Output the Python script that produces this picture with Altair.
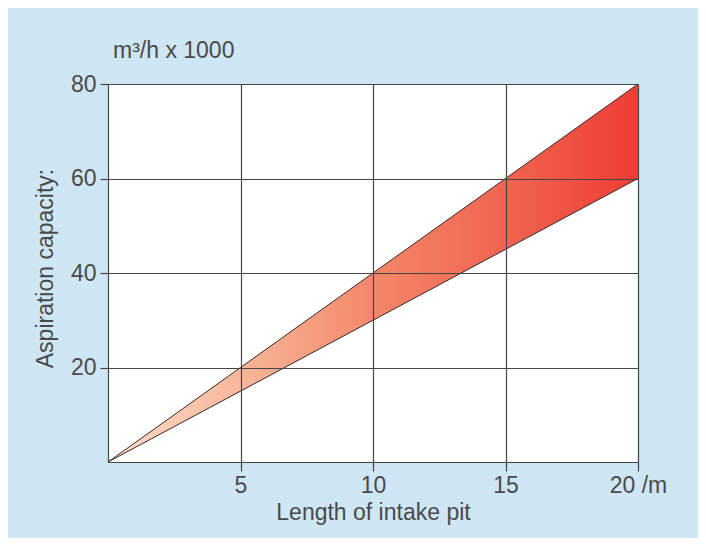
import altair as alt
import pandas as pd

length = [0, 5, 10, 15, 20]
upper = [0, 20, 40, 60, 80]
lower = [0, 15, 30, 45, 60]
x_ticks = [5, 10, 15, 20]
y_ticks = [20, 40, 60, 80]

df = pd.DataFrame({"x": length, "upper": upper, "lower": lower})

FONT = "Liberation Sans"
INK = "#4a4a4a"
GRID = "#454545"

xscale = alt.Scale(domain=[0, 20], nice=False)
yscale = alt.Scale(domain=[0, 80], nice=False)

xaxis = alt.Axis(values=x_ticks, grid=True, gridColor=GRID, gridWidth=1.2,
                 gridOpacity=1, domainColor=GRID, domainWidth=1.2, tickColor=GRID,
                 tickWidth=1.2, tickSize=9,
                 labelExpr="datum.value == 20 ? '20 /m' : datum.label",
                 labelFont=FONT, labelFontSize=23, labelColor=INK, labelPadding=3,
                 labelFlush=False, labelOverlap=False,
                 title="Length of intake pit", titleFont=FONT, titleFontSize=23,
                 titleFontWeight="normal", titleColor=INK, titleBaseline="middle",
                 titleY=50, zindex=1)
yaxis = alt.Axis(values=y_ticks, grid=True, gridColor=GRID, gridWidth=1.2,
                 gridOpacity=1, domainColor=GRID, domainWidth=1.2, tickColor=GRID,
                 tickWidth=1.2, tickSize=8,
                 labelFont=FONT, labelFontSize=23, labelColor=INK, labelPadding=4,
                 labelFlush=False, labelOverlap=False,
                 title="Aspiration capacity:", titleFont=FONT, titleFontSize=23,
                 titleFontWeight="normal", titleColor=INK, titleX=-63, titleY=184,
                 titleAngle=-90, titleBaseline="middle", titleAlign="center", zindex=1)

base = alt.Chart(df)

band = base.mark_area(
    color=alt.Gradient(
        gradient="linear", x1=0, x2=1, y1=0, y2=0,
        stops=[alt.GradientStop(offset=0, color="#fcdccb"),
               alt.GradientStop(offset=0.25, color="#f7b79a"),
               alt.GradientStop(offset=0.5, color="#f3876a"),
               alt.GradientStop(offset=0.75, color="#f06450"),
               alt.GradientStop(offset=1, color="#ee3d34")]),
    opacity=1,
).encode(
    x=alt.X("x:Q", scale=xscale, axis=xaxis),
    y=alt.Y("upper:Q", scale=yscale, axis=yaxis),
    y2="lower:Q",
)

top_line = base.mark_line(color="#3a2a2a", strokeWidth=1).encode(
    x=alt.X("x:Q", scale=xscale), y=alt.Y("upper:Q", scale=yscale))
bot_line = base.mark_line(color="#3a2a2a", strokeWidth=1).encode(
    x=alt.X("x:Q", scale=xscale), y=alt.Y("lower:Q", scale=yscale))

unit = alt.Chart(pd.DataFrame({"t": ["m³/h x 1000"]})).mark_text(
    align="left", baseline="middle", font=FONT, fontSize=23, color=INK
).encode(x=alt.value(5), y=alt.value(-33), text="t:N")

chart = alt.layer(band, top_line, bot_line, unit).properties(
    width=530, height=378,
    background="#cfe6f5",
    padding={"left": 100, "top": 76, "right": 60, "bottom": 76},
    autosize=alt.AutoSizeParams(type="none"),
).configure_view(fill="white", stroke=None)

chart.save("out.html", embed_options={"renderer": "svg", "actions": False})
